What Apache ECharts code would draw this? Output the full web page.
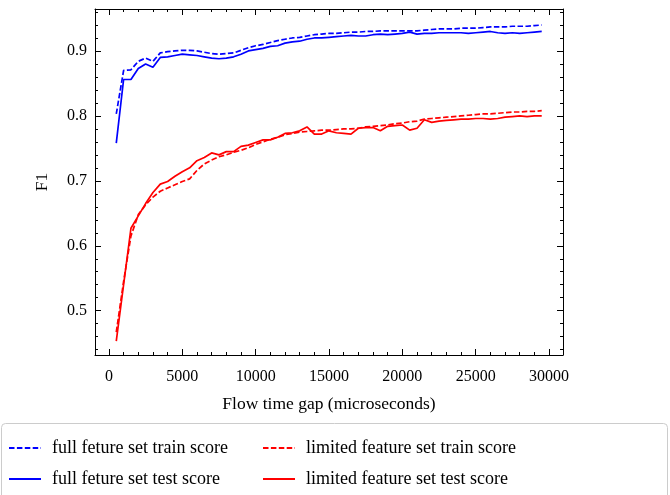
<!DOCTYPE html>
<html>
<head>
<meta charset="utf-8">
<script src="https://cdn.jsdelivr.net/npm/echarts@6/dist/echarts.min.js"></script>
<style>
  html, body { margin: 0; padding: 0; background: #fff; }
  #chart { width: 670px; height: 495px; }
</style>
</head>
<body>
<div id="chart"></div>
<script>
// Flow time gap in microseconds (one model per gap)
const gaps = [500, 1000, 1500, 2000, 2500, 3000, 3500, 4000, 4500, 5000,
  5500, 6000, 6500, 7000, 7500, 8000, 8500, 9000, 9500, 10000,
  10500, 11000, 11500, 12000, 12500, 13000, 13500, 14000, 14500, 15000,
  15500, 16000, 16500, 17000, 17500, 18000, 18500, 19000, 19500, 20000,
  20500, 21000, 21500, 22000, 22500, 23000, 23500, 24000, 24500, 25000,
  25500, 26000, 26500, 27000, 27500, 28000, 28500, 29000, 29500];

const fullTrain = [0.803, 0.870, 0.871, 0.884, 0.889, 0.884, 0.897, 0.899, 0.900, 0.901,
  0.901, 0.900, 0.898, 0.896, 0.895, 0.896, 0.897, 0.901, 0.905, 0.908,
  0.910, 0.913, 0.916, 0.918, 0.920, 0.921, 0.923, 0.925, 0.926, 0.927,
  0.927, 0.928, 0.929, 0.929, 0.930, 0.930, 0.931, 0.931, 0.931, 0.931,
  0.931, 0.931, 0.932, 0.933, 0.934, 0.934, 0.934, 0.935, 0.935, 0.935,
  0.936, 0.937, 0.937, 0.937, 0.938, 0.938, 0.938, 0.939, 0.940];

const fullTest = [0.758, 0.856, 0.856, 0.873, 0.880, 0.875, 0.890, 0.891, 0.893, 0.895,
  0.894, 0.893, 0.891, 0.889, 0.888, 0.889, 0.891, 0.895, 0.900, 0.902,
  0.904, 0.907, 0.908, 0.912, 0.914, 0.915, 0.918, 0.920, 0.920, 0.921,
  0.922, 0.923, 0.924, 0.923, 0.923, 0.925, 0.926, 0.925, 0.926, 0.927,
  0.929, 0.926, 0.927, 0.927, 0.928, 0.928, 0.928, 0.928, 0.927, 0.928,
  0.929, 0.930, 0.928, 0.927, 0.928, 0.927, 0.928, 0.929, 0.930];

const limitedTrain = [0.467, 0.545, 0.615, 0.648, 0.663, 0.675, 0.684, 0.689, 0.694, 0.699,
  0.703, 0.716, 0.726, 0.732, 0.737, 0.740, 0.744, 0.747, 0.751, 0.756,
  0.760, 0.764, 0.767, 0.771, 0.773, 0.775, 0.776, 0.777, 0.778, 0.778,
  0.779, 0.780, 0.780, 0.781, 0.783, 0.784, 0.785, 0.786, 0.788, 0.789,
  0.791, 0.792, 0.795, 0.796, 0.797, 0.798, 0.799, 0.800, 0.801, 0.802,
  0.803, 0.803, 0.804, 0.805, 0.806, 0.806, 0.807, 0.807, 0.808];

const limitedTest = [0.453, 0.540, 0.627, 0.646, 0.665, 0.682, 0.695, 0.699, 0.707, 0.714,
  0.720, 0.731, 0.736, 0.743, 0.740, 0.745, 0.745, 0.753, 0.755, 0.759,
  0.763, 0.763, 0.767, 0.773, 0.774, 0.777, 0.783, 0.772, 0.772, 0.777,
  0.774, 0.773, 0.772, 0.781, 0.782, 0.782, 0.777, 0.784, 0.785, 0.786,
  0.778, 0.781, 0.794, 0.790, 0.792, 0.793, 0.794, 0.795, 0.795, 0.796,
  0.796, 0.795, 0.796, 0.798, 0.799, 0.800, 0.799, 0.800, 0.800];

// Tick positions
const xMajorTicks = [0, 5000, 10000, 15000, 20000, 25000, 30000];
const xMinorTicks = [1000, 2000, 3000, 4000, 6000, 7000, 8000, 9000, 11000, 12000, 13000, 14000,
  16000, 17000, 18000, 19000, 21000, 22000, 23000, 24000, 26000, 27000, 28000, 29000, 30000];
const yMajorTicks = [0.5, 0.6, 0.7, 0.8, 0.9];
const yMinorTicks = [0.44, 0.46, 0.48, 0.52, 0.54, 0.56, 0.58, 0.62, 0.64, 0.66, 0.68,
  0.72, 0.74, 0.76, 0.78, 0.82, 0.84, 0.86, 0.88, 0.92, 0.94, 0.96];

const seriesNames = [
  'full feture set train score',
  'full feture set test score',
  'limited feature set train score',
  'limited feature set test score'
];

const SERIF = '"Liberation Serif", "DejaVu Serif", serif';
const X_MIN = -950, X_MAX = 30950;
const Y_MIN = 0.4318, Y_MAX = 0.9646;

function pairs(values) {
  return gaps.map((g, i) => [g, values[i]]);
}

function xAxisDef(position, ticks, len, labelled) {
  return {
    type: 'value', position, min: X_MIN, max: X_MAX,
    axisLine: { show: labelled, onZero: false, lineStyle: { color: '#000', width: 1 } },
    axisTick: { show: true, inside: true, length: len, customValues: ticks,
      lineStyle: { color: '#000', width: 1 } },
    axisLabel: labelled && position === 'bottom'
      ? { show: true, customValues: ticks, color: '#000', fontFamily: SERIF, fontSize: 16, margin: 14,
          formatter: v => String(v) }
      : { show: false },
    splitLine: { show: false }
  };
}

function yAxisDef(position, ticks, len, labelled) {
  return {
    type: 'value', position, min: Y_MIN, max: Y_MAX,
    axisLine: { show: labelled, onZero: false, lineStyle: { color: '#000', width: 1 } },
    axisTick: { show: true, inside: true, length: len, customValues: ticks,
      lineStyle: { color: '#000', width: 1 } },
    axisLabel: labelled && position === 'left'
      ? { show: true, customValues: ticks, color: '#000', fontFamily: SERIF, fontSize: 16, margin: 8,
          formatter: v => v.toFixed(1) }
      : { show: false },
    splitLine: { show: false }
  };
}

const xAxes = [
  xAxisDef('bottom', xMajorTicks, 6, true),
  xAxisDef('bottom', xMinorTicks, 3, false),
  xAxisDef('top', xMajorTicks, 6, true),
  xAxisDef('top', xMinorTicks, 3, false)
];
Object.assign(xAxes[0], {
  name: 'Flow time gap (microseconds)', nameLocation: 'middle', nameGap: 40,
  nameTextStyle: { color: '#000', fontFamily: SERIF, fontSize: 17.5 }
});

const yAxes = [
  yAxisDef('left', yMajorTicks, 6, true),
  yAxisDef('left', yMinorTicks, 3, false),
  yAxisDef('right', yMajorTicks, 6, true),
  yAxisDef('right', yMinorTicks, 3, false)
];
Object.assign(yAxes[0], {
  name: 'F1', nameLocation: 'middle', nameGap: 44,
  nameTextStyle: { color: '#000', fontFamily: SERIF, fontSize: 17.5 }
});

function lineSeries(name, values, color, dashed) {
  return {
    name, type: 'line', data: pairs(values),
    xAxisIndex: 0, yAxisIndex: 0,
    symbol: 'none', showSymbol: false, smooth: false,
    lineStyle: { color, width: 1.7, type: dashed ? [5.5, 2.4] : 'solid' },
    itemStyle: { color },
    emphasis: { disabled: true }
  };
}

const legendText = { color: '#000', fontFamily: SERIF, fontSize: 18, padding: [0, 0, 0, 6] };

function legendColumn(left, names) {
  return {
    orient: 'vertical', left, top: 439, height: 200, padding: 0,
    itemWidth: 32, itemHeight: 16, itemGap: 13,
    data: names, textStyle: legendText, selectedMode: false,
    itemStyle: { opacity: 0 }
  };
}

const option = {
  animation: false,
  backgroundColor: '#fff',
  grid: { left: 95, right: 107, top: 9, bottom: 140, outerBoundsMode: 'none' },
  xAxis: xAxes,
  yAxis: yAxes,
  legend: [
    legendColumn(8, [seriesNames[0], seriesNames[1]]),
    legendColumn(262, [seriesNames[2], seriesNames[3]])
  ],
  graphic: [{
    type: 'rect', left: 1, top: 423, z: -1,
    shape: { width: 666, height: 90, r: 4 },
    style: { fill: '#fff', stroke: '#cccccc', lineWidth: 1 }
  }],
  series: [
    lineSeries(seriesNames[0], fullTrain, '#0000ff', true),
    lineSeries(seriesNames[1], fullTest, '#0000ff', false),
    lineSeries(seriesNames[2], limitedTrain, '#ff0000', true),
    lineSeries(seriesNames[3], limitedTest, '#ff0000', false)
  ]
};

const chart = echarts.init(document.getElementById('chart'), null, { renderer: 'canvas' });
chart.setOption(option);
</script>
</body>
</html>
